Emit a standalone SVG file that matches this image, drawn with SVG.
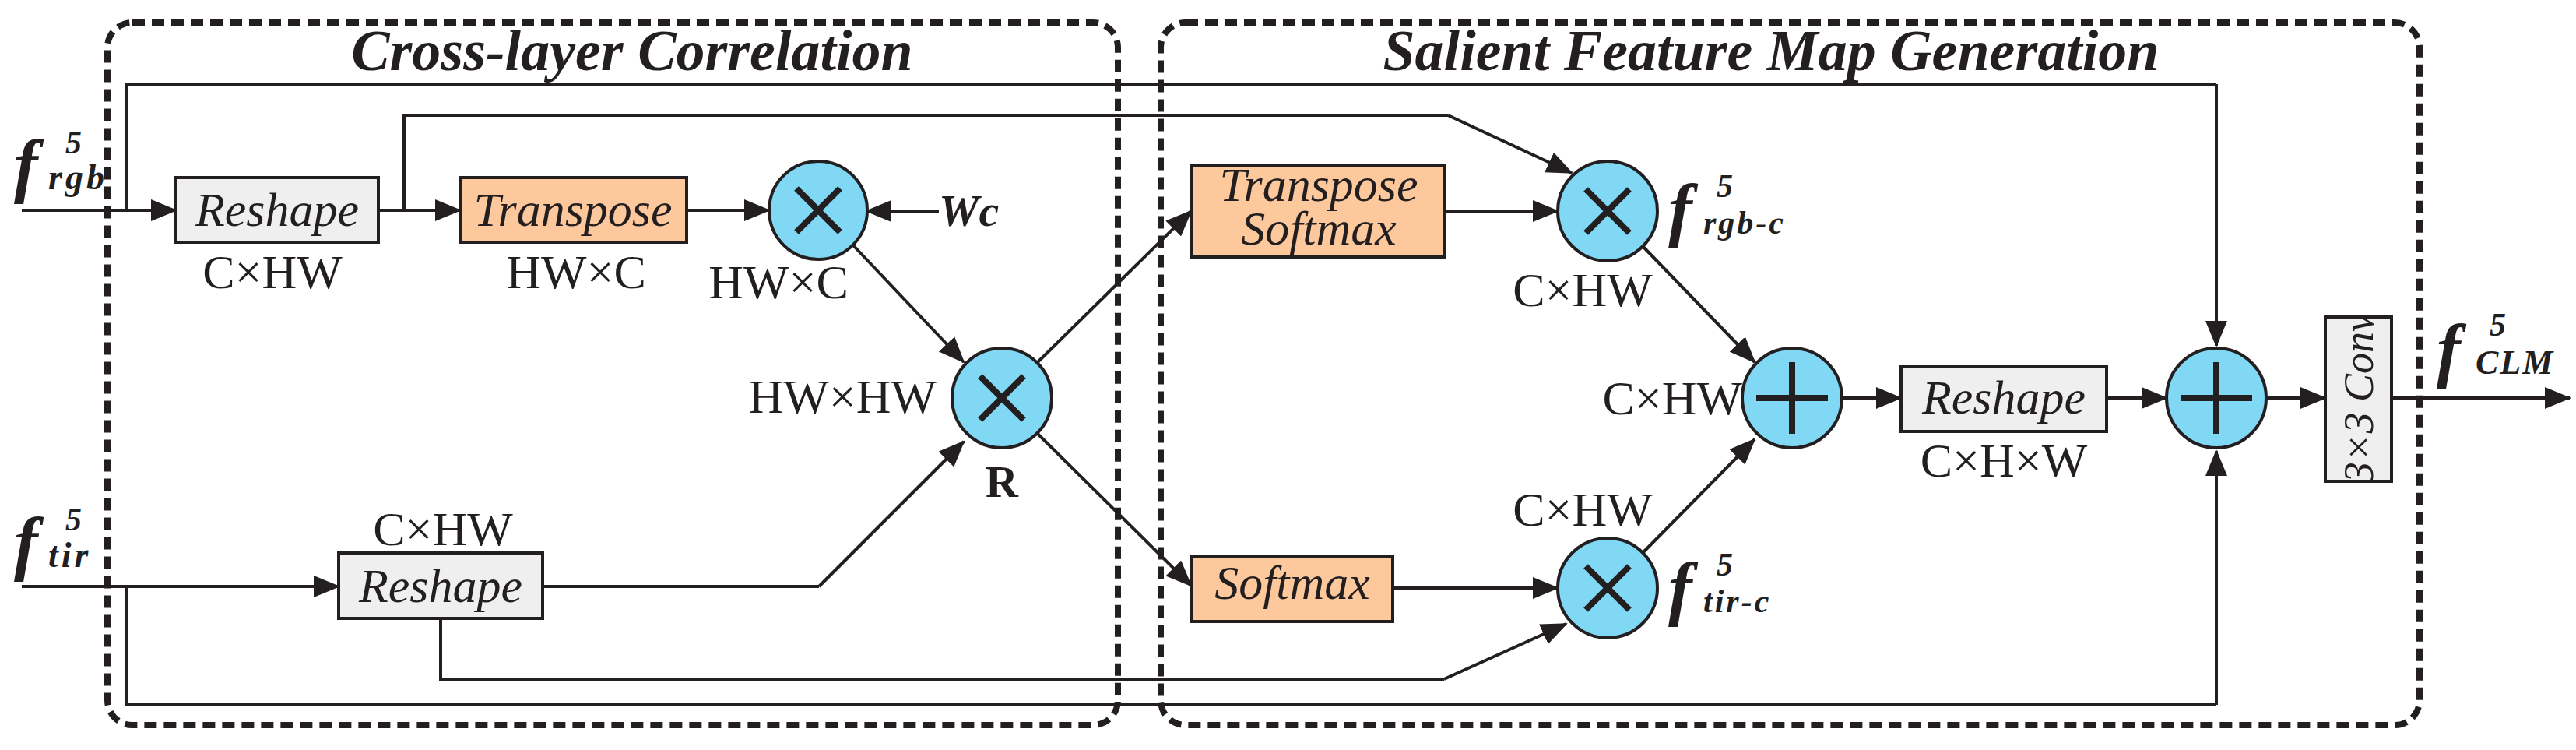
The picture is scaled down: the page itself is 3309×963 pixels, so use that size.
<svg xmlns="http://www.w3.org/2000/svg" width="3309" height="963" viewBox="0 0 3309 963">
<style>
.frame{fill:none;stroke:#231f20;stroke-width:8;stroke-dasharray:16 9}
.ln{fill:none;stroke:#231f20;stroke-width:4}
.ar{fill:none;stroke:#231f20;stroke-width:4;marker-end:url(#ah)}
.grey{fill:#efefef;stroke:#231f20;stroke-width:4}
.peach{fill:#fdc89c;stroke:#231f20;stroke-width:4}
.circ{fill:#80d8f5;stroke:#231f20;stroke-width:4}
.sym{stroke:#231f20;stroke-width:8;fill:none}
text{font-family:'Liberation Serif','Times New Roman','DejaVu Serif',serif;fill:#231f20}
.title{font-size:74px;font-weight:bold;font-style:italic}
.lab{font-size:62px}
.box{font-size:62px;font-style:italic}
.fb{font-weight:bold;font-style:italic}
</style>
<defs>
<marker id="ah" markerUnits="userSpaceOnUse" markerWidth="34" markerHeight="28" refX="32" refY="14" orient="auto">
<path d="M0,0 L34,14 L0,28 Z" fill="#231f20"/>
</marker>
<clipPath id="cc"><rect x="2987" y="407" width="85" height="211"/></clipPath>
</defs>
<rect width="3309" height="963" fill="#fff"/>
<g id="frames">
<rect class="frame" x="138" y="29" width="1298" height="902" rx="32"/>
<rect class="frame" x="1491" y="29" width="1617" height="902" rx="32"/>
<text class="title" x="812" y="90" text-anchor="middle">Cross-layer Correlation</text>
<text class="title" x="2275" y="90" text-anchor="middle">Salient Feature Map Generation</text>
</g>
<g id="connectors">
<path class="ar" d="M28,270 H226"/>
<path class="ln" d="M163,270 V108 H2847"/>
<path class="ar" d="M2847,108 V444"/>
<path class="ln" d="M486,270 H519 V148 H1860"/>
<path class="ar" d="M1860,148 L2019,222"/>
<path class="ar" d="M519,270 H591"/>
<path class="ar" d="M882,270 H988"/>
<path class="ar" d="M1206,271 H1113"/>
<path class="ar" d="M1096,315 L1238,465"/>
<path class="ar" d="M28,753 H435"/>
<path class="ln" d="M163,753 V905 H2847"/>
<path class="ar" d="M2847,905 V579"/>
<path class="ln" d="M697,753 H1052"/>
<path class="ar" d="M1052,753 L1238,567"/>
<path class="ln" d="M566,794 V872 H1855"/>
<path class="ar" d="M1855,872 L2012,801"/>
<path class="ar" d="M1333,465 L1530,271"/>
<path class="ar" d="M1333,557 L1530,752"/>
<path class="ar" d="M1855,271 H2001"/>
<path class="ar" d="M1789,755 H2001"/>
<path class="ar" d="M2110,316 L2254,465"/>
<path class="ar" d="M2110,710 L2254,564"/>
<path class="ar" d="M2366,511 H2442"/>
<path class="ar" d="M2706,511 H2783"/>
<path class="ar" d="M2911,511 H2987"/>
<path class="ar" d="M3072,511 H3301"/>
</g>
<g id="in-rgb"><text class="fb" x="18" y="243" font-size="92">f</text><text class="fb" x="84" y="197" font-size="42">5</text><text class="fb" x="62" y="243" font-size="46" letter-spacing="4">rgb</text></g>
<g id="in-tir"><text class="fb" x="18" y="728" font-size="92">f</text><text class="fb" x="84" y="681" font-size="42">5</text><text class="fb" x="62" y="728" font-size="46" letter-spacing="4">tir</text></g>
<g id="reshape1"><rect class="grey" x="226" y="228" width="260" height="83"/><text class="box" x="356" y="290" text-anchor="middle">Reshape</text><text class="lab" x="350" y="370" text-anchor="middle">C×HW</text></g>
<g id="transpose"><rect class="peach" x="591" y="228" width="291" height="83"/><text class="box" x="736" y="290" text-anchor="middle">Transpose</text><text class="lab" x="740" y="370" text-anchor="middle">HW×C</text></g>
<g id="mul1"><circle class="circ" cx="1051" cy="270" r="63"/><path class="sym" d="M1023,242 L1079,298 M1079,242 L1023,298"/><text class="lab" x="1000" y="383" text-anchor="middle">HW×C</text></g>
<g id="wc"><text class="fb" x="1206" y="290" font-size="58">Wc</text></g>
<g id="reshape2"><rect class="grey" x="435" y="710" width="262" height="84"/><text class="box" x="566" y="773" text-anchor="middle">Reshape</text><text class="lab" x="569" y="700" text-anchor="middle">C×HW</text></g>
<g id="mulR"><circle class="circ" cx="1287" cy="511" r="64"/><path class="sym" d="M1259,483 L1315,539 M1315,483 L1259,539"/><text x="1287" y="638" text-anchor="middle" font-size="58" font-weight="bold">R</text><text class="lab" x="1203" y="530" text-anchor="end">HW×HW</text></g>
<g id="tsoftmax"><rect class="peach" x="1530" y="213" width="325" height="117"/><text class="box" x="1694" y="258" text-anchor="middle" font-size="52">Transpose</text><text class="box" x="1694" y="314" text-anchor="middle" font-size="52">Softmax</text></g>
<g id="softmax"><rect class="peach" x="1530" y="715" width="259" height="83"/><text class="box" x="1660" y="769" text-anchor="middle" font-size="58">Softmax</text></g>
<g id="mulrgb"><circle class="circ" cx="2065" cy="271" r="64"/><path class="sym" d="M2037,243 L2093,299 M2093,243 L2037,299"/><text class="lab" x="2033" y="393" text-anchor="middle">C×HW</text><text class="fb" x="2143" y="300" font-size="92">f</text><text class="fb" x="2205" y="253" font-size="42">5</text><text class="fb" x="2188" y="300" font-size="42" letter-spacing="3">rgb-c</text></g>
<g id="multir"><circle class="circ" cx="2065" cy="755" r="64"/><path class="sym" d="M2037,727 L2093,783 M2093,727 L2037,783"/><text class="lab" x="2033" y="675" text-anchor="middle">C×HW</text><text class="fb" x="2143" y="786" font-size="92">f</text><text class="fb" x="2205" y="739" font-size="42">5</text><text class="fb" x="2188" y="786" font-size="42" letter-spacing="3">tir-c</text></g>
<g id="plus1"><circle class="circ" cx="2302" cy="511" r="64"/><path class="sym" d="M2256,511 H2348 M2302,465 V557"/><text class="lab" x="2238" y="532" text-anchor="end">C×HW</text></g>
<g id="reshape3"><rect class="grey" x="2442" y="471" width="264" height="83"/><text class="box" x="2574" y="531" text-anchor="middle">Reshape</text><text class="lab" x="2574" y="612" text-anchor="middle">C×H×W</text></g>
<g id="plus2"><circle class="circ" cx="2847" cy="511" r="64"/><path class="sym" d="M2801,511 H2893 M2847,465 V557"/></g>
<g id="conv"><rect class="grey" x="2987" y="407" width="85" height="211"/><g clip-path="url(#cc)"><text transform="translate(3048,511) rotate(-90)" text-anchor="middle" font-size="54" font-style="italic">3×3 Conv</text></g></g>
<g id="out"><text class="fb" x="3130" y="480" font-size="92">f</text><text class="fb" x="3198" y="431" font-size="42">5</text><text class="fb" x="3180" y="480" font-size="44" letter-spacing="2">CLM</text></g>
</svg>
